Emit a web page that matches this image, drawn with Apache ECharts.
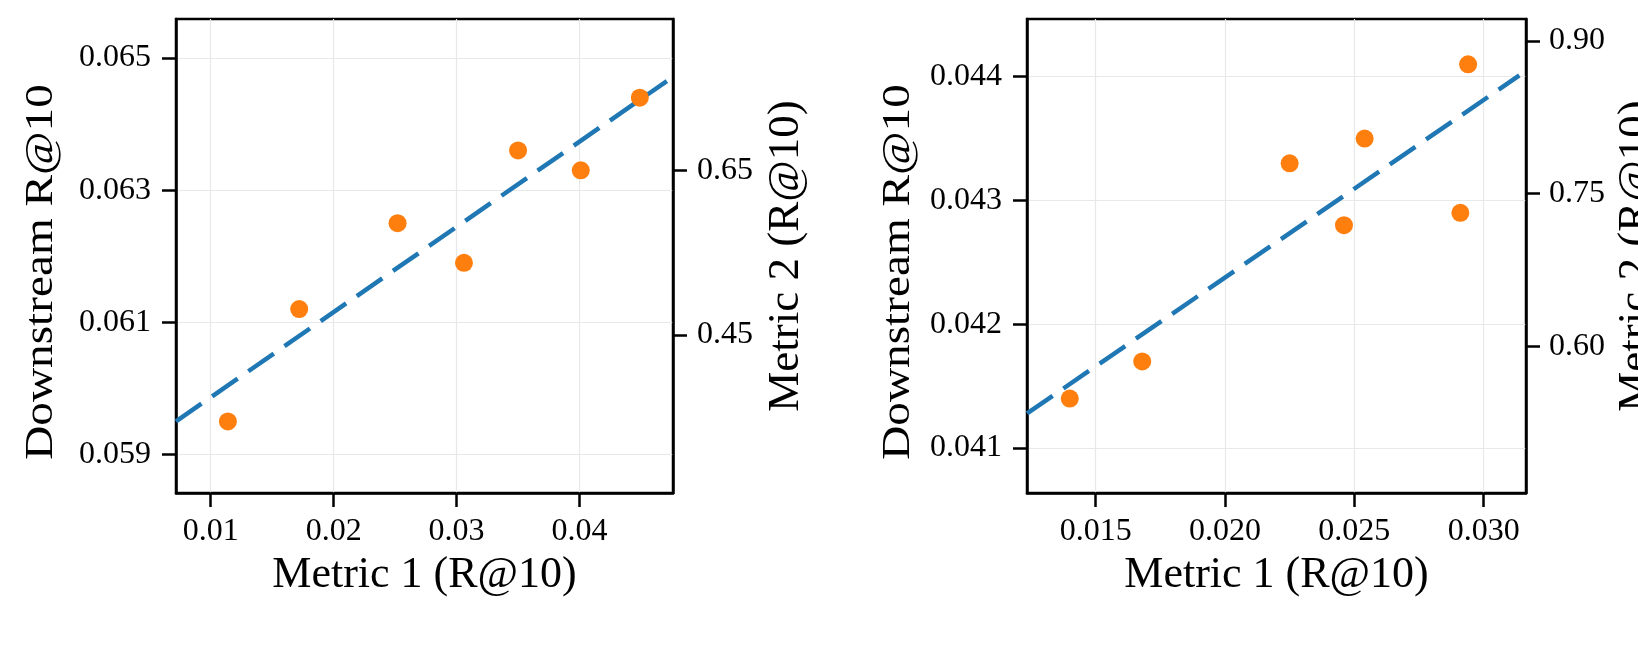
<!DOCTYPE html>
<html style="height: 100%">
<head>
    <meta charset="utf-8">
    <script src="https://cdn.jsdelivr.net/npm/echarts@6/dist/echarts.min.js"></script>
</head>
<body style="height: 100%; margin: 0; background: #fff">
    <div id="main" style="width: 1638px; height: 651px"></div>
    <script type="text/javascript">
        // left panel
        var leftX = [0.0114, 0.0172, 0.0252, 0.0306, 0.0350, 0.0401, 0.0449];
        var leftY = [0.0595, 0.0612, 0.0625, 0.0619, 0.0636, 0.0633, 0.0644];
        var leftFitX = [0.00718, 0.0471];
        var leftFitY = [0.0595, 0.06465];
        var leftXTicks = [0.01, 0.02, 0.03, 0.04];
        var leftYTicks = [0.059, 0.061, 0.063, 0.065];
        var leftY2Ticks = [0.45, 0.65];

        // right panel
        var rightX = [0.0140, 0.0168, 0.0225, 0.0246, 0.0254, 0.0291, 0.0294];
        var rightY = [0.0414, 0.0417, 0.0433, 0.0428, 0.0435, 0.0429, 0.0441];
        var rightFitX = [0.01235, 0.03138];
        var rightFitY = [0.04128, 0.04401];
        var rightXTicks = [0.015, 0.020, 0.025, 0.030];
        var rightYTicks = [0.041, 0.042, 0.043, 0.044];
        var rightY2Ticks = [0.60, 0.75, 0.90];

        var FONT = 'Liberation Serif';
        var xTitle = 'Metric 1 (R@10)';
        var yTitle = 'Downstream R@10';
        var y2Title = 'Metric 2 (R@10)';

        function pairs(xs, ys) {
            return xs.map(function (x, i) { return [x, ys[i]]; });
        }

        var tickStyle = { show: true, inside: false, length: 14, lineStyle: { color: '#000', width: 2.5 } };
        var lineStyle = { show: true, lineStyle: { color: '#000', width: 2.5 } };
        var grid = { show: true, lineStyle: { color: '#e8e8e8', width: 1.2 } };

        function xAxis(idx, min, max, ticks, dec) {
            return {
                type: 'value', gridIndex: idx, min: min, max: max,
                axisLine: lineStyle,
                axisTick: Object.assign({ customValues: ticks }, tickStyle),
                axisLabel: {
                    customValues: ticks, margin: 23, color: '#000',
                    fontFamily: FONT, fontSize: 32,
                    formatter: function (v) { return v.toFixed(dec); }
                },
                splitLine: grid,
                name: xTitle, nameLocation: 'middle', nameGap: 60,
                nameTextStyle: { fontFamily: FONT, fontSize: 44, color: '#000' }
            };
        }

        function yAxis(idx, min, max, ticks, dec, pos, margin) {
            return {
                type: 'value', gridIndex: idx, min: min, max: max, position: pos,
                axisLine: lineStyle,
                axisTick: Object.assign({ customValues: ticks }, tickStyle),
                axisLabel: {
                    customValues: ticks, margin: margin, color: '#000',
                    fontFamily: FONT, fontSize: 32,
                    formatter: function (v) { return v.toFixed(dec); }
                },
                splitLine: pos === 'left' ? grid : { show: false }
            };
        }

        // y titles as text so they can be squeezed like the original
        function vText(text, x, y, sx, sy) {
            return {
                type: 'text', x: x, y: y, rotation: Math.PI / 2, scaleX: sx, scaleY: sy,
                style: {
                    text: text, fill: '#000', font: '45px "' + FONT + '"',
                    align: 'center', verticalAlign: 'middle'
                }
            };
        }

        var chart = echarts.init(document.getElementById('main'));
        var option = {
            animation: false,
            backgroundColor: '#fff',
            grid: [
                { left: 176, top: 19, width: 497, height: 474, show: true, borderColor: '#000', borderWidth: 2.5, outerBoundsMode: 'none' },
                { left: 1027, top: 19, width: 499, height: 474, show: true, borderColor: '#000', borderWidth: 2.5, outerBoundsMode: 'none' }
            ],
            xAxis: [
                xAxis(0, 0.00718, 0.0476, leftXTicks, 2),
                xAxis(1, 0.012346, 0.031638, rightXTicks, 3)
            ],
            yAxis: [
                yAxis(0, 0.058416, 0.06559, leftYTicks, 3, 'left', 25),
                yAxis(0, 0.258, 0.8343, leftY2Ticks, 2, 'right', 24),
                yAxis(1, 0.040637, 0.044466, rightYTicks, 3, 'left', 25),
                yAxis(1, 0.4561, 0.9216, rightY2Ticks, 2, 'right', 23)
            ],
            graphic: [
                vText(yTitle, 42, 272, 1.05, 0.88),
                vText(y2Title, 786, 256, 1, 1),
                vText(yTitle, 899, 272, 1.05, 0.88),
                vText(y2Title, 1636, 256, 1, 1)
            ],
            series: [
                {
                    type: 'line', xAxisIndex: 0, yAxisIndex: 0, data: pairs(leftFitX, leftFitY),
                    symbol: 'none', z: 2,
                    lineStyle: { color: '#1f77b4', width: 4.5, type: [31, 13] }
                },
                {
                    type: 'scatter', xAxisIndex: 0, yAxisIndex: 0, data: pairs(leftX, leftY),
                    symbolSize: 18, z: 3, itemStyle: { color: '#ff7f0e', opacity: 1 }
                },
                {
                    type: 'line', xAxisIndex: 1, yAxisIndex: 2, data: pairs(rightFitX, rightFitY),
                    symbol: 'none', z: 2,
                    lineStyle: { color: '#1f77b4', width: 4.5, type: [31, 13] }
                },
                {
                    type: 'scatter', xAxisIndex: 1, yAxisIndex: 2, data: pairs(rightX, rightY),
                    symbolSize: 18, z: 3, itemStyle: { color: '#ff7f0e', opacity: 1 }
                }
            ]
        };
        chart.setOption(option);
    </script>
</body>
</html>
